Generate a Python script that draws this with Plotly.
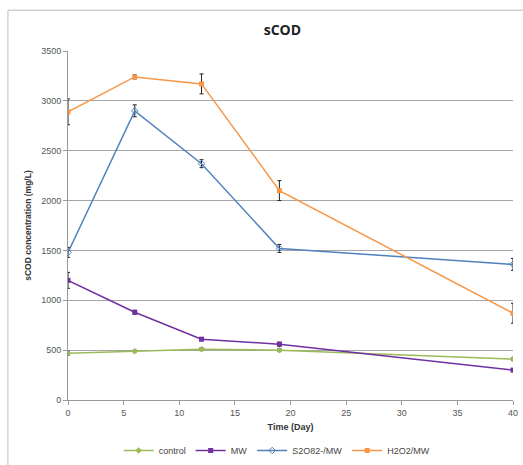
import plotly.graph_objects as go

days = [0, 6, 12, 19, 40]
control = [470, 490, 510, 500, 410]
mw = [1200, 880, 610, 560, 300]
s2o8 = [1480, 2900, 2370, 1520, 1360]
h2o2 = [2890, 3240, 3170, 2100, 870]
control_err = [20, 10, 15, 15, 15]
mw_err = [80, 20, 15, 20, 15]
s2o8_err = [50, 60, 40, 40, 60]
h2o2_err = [130, 20, 100, 100, 100]

series = [
    ("control", control, control_err, "#9BBB59", "diamond"),
    ("MW", mw, mw_err, "#7030A0", "square"),
    ("S2O82-/MW", s2o8, s2o8_err, "#4F81BD", "diamond-open"),
    ("H2O2/MW", h2o2, h2o2_err, "#F79646", "square"),
]

fig = go.Figure()
for name, vals, err, color, sym in series:
    fig.add_trace(go.Scatter(
        x=days, y=vals, name=name, mode="lines+markers",
        line=dict(color=color, width=1.5),
        marker=dict(color=color, symbol=sym, size=5),
        error_y=dict(type="data", array=err, color="#222222", thickness=1, width=2),
    ))

fig.update_layout(
    width=523, height=465,
    margin=dict(l=68, r=10, t=51, b=65, autoexpand=False),
    paper_bgcolor="white", plot_bgcolor="white",
    font=dict(family="Liberation Sans, Arial", size=9, color="#555555"),
    title=dict(text="<b>sCOD</b>", x=0.54, xanchor="center", y=0.935, yanchor="middle",
               font=dict(size=14, color="#222222", family="Open Sans")),
    xaxis=dict(range=[0, 40], dtick=5, showgrid=False, showline=True, linecolor="#999999",
               ticks="outside", ticklen=4, tickcolor="#999999", zeroline=False, automargin=False,
               title=dict(text="<b>Time (Day)</b>", font=dict(size=9, color="#333333"), standoff=6)),
    yaxis=dict(range=[0, 3500], dtick=500, showgrid=True, gridcolor="#a6a6a6", gridwidth=1,
               showline=True, linecolor="#999999", ticks="outside", ticklen=4, tickcolor="#999999",
               zeroline=False, automargin=False,
               title=dict(text="<b>sCOD concentration (mg/L)</b>", font=dict(size=8.5, color="#333333"), standoff=8)),
    legend=dict(orientation="h", x=0.47, xanchor="center", yref="container", y=-0.015, yanchor="bottom",
                font=dict(size=9, color="#444444"), itemwidth=30, tracegroupgap=0),
    showlegend=True,
)
fig.add_shape(type="line", xref="paper", yref="paper", x0=-0.135, x1=-0.135, y0=-0.2, y1=1.117,
              line=dict(color="#bbbbbb", width=1))
fig.add_shape(type="line", xref="paper", yref="paper", x0=-0.135, x1=1.03, y0=1.117, y1=1.117,
              line=dict(color="#bbbbbb", width=1))
fig.write_html("out.html")
